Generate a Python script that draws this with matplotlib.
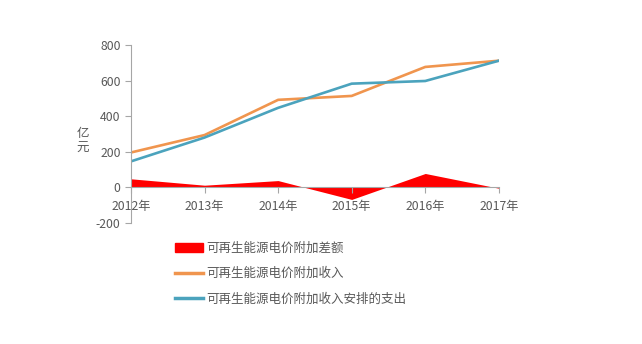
import matplotlib
matplotlib.use("Agg")
import matplotlib.pyplot as plt
import matplotlib.patches as mpatches
import numpy as np

plt.rcParams['font.family'] = ['Noto Sans CJK SC', 'DejaVu Sans']
plt.rcParams['axes.unicode_minus'] = False

years = ["2012年", "2013年", "2014年", "2015年", "2016年", "2017年"]
income = [196, 294, 492, 514, 677, 712]
expense = [146, 280, 447, 583, 598, 712]
gap = [48, 12, 38, -68, 78, -5]

gray = "#595959"
axis_gray = "#a6a6a6"

fig = plt.figure(figsize=(6.42, 3.44), dpi=100)
ax = fig.add_axes([0.204, 0.352, 0.573, 0.517])

x = np.arange(len(years))
ax.fill_between(x, 0, gap, color="#ff0000", linewidth=0)
ax.plot(x, income, color="#f0954e", linewidth=1.9)
ax.plot(x, expense, color="#4ba3bd", linewidth=1.9)

ax.set_xlim(0, len(years) - 1)
ax.set_ylim(-200, 800)
ax.set_yticks([-200, 0, 200, 400, 600, 800])
ax.set_xticks(x)
ax.set_xticklabels(years)

ax.spines['top'].set_visible(False)
ax.spines['right'].set_visible(False)
ax.spines['bottom'].set_position(('data', 0))
ax.spines['bottom'].set_color(axis_gray)
ax.spines['left'].set_color(axis_gray)
ax.tick_params(axis='both', colors=axis_gray, labelcolor=gray, labelsize=8.8, length=4)
ax.tick_params(axis='x', pad=5)

fig.text(0.129, 0.59, "亿\n元", color=gray, fontsize=9, ha='center', va='center', linespacing=1.25)

handles = [mpatches.Patch(color="#ff0000"),
           plt.Line2D([], [], color="#f0954e", linewidth=2.5),
           plt.Line2D([], [], color="#4ba3bd", linewidth=2.5)]
labels = ["可再生能源电价附加差额", "可再生能源电价附加收入", "可再生能源电价附加收入安排的支出"]
leg = fig.legend(handles, labels, loc='upper left', bbox_to_anchor=(0.273, 0.297),
                 frameon=False, fontsize=9, labelspacing=0.98, handlelength=2.2,
                 handletextpad=0.25, borderaxespad=0, borderpad=0)
for t in leg.get_texts():
    t.set_color(gray)

plt.savefig("out.png", dpi=100)
